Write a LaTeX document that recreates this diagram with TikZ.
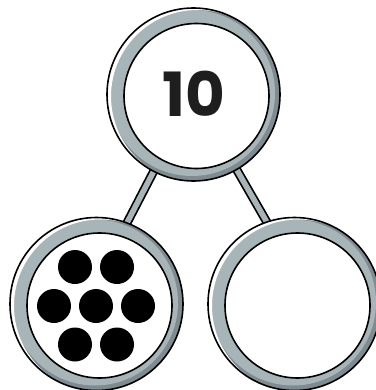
\documentclass[tikz,border=0pt]{standalone}
\usepackage{fontspec}
\newfontfamily\numfont{Poppins}
\usetikzlibrary{calc}
\definecolor{ringlight}{HTML}{A7B4B8}
\definecolor{ringdark}{HTML}{7F8B90}
\definecolor{numcol}{HTML}{1E1E1E}
\newcommand\myring[1]{%
  \begin{scope}
    \clip (#1.center) circle[radius=86.5pt];
    \fill[ringdark] (#1.center) circle[radius=86.5pt];
    \fill[ringlight] ([shift={(-1.5,-1.5)}]#1.center) circle[radius=83pt];
    \fill[white,even odd rule] (#1.center) circle[radius=86.5pt] ([shift={(4,2)}]#1.center) circle[radius=86.5pt];
  \end{scope}
  \draw[line width=1.6pt] (#1.center) circle[radius=86.5pt];
  \draw[line width=1.6pt,fill=white] ([shift={(3,1.5)}]#1.center) circle[radius=72.5pt];
}
\begin{document}
\begin{tikzpicture}[x=1pt,y=-1pt,
  holder/.style={circle,minimum size=173pt,inner sep=0pt,draw=none},
  conn/.style={line width=9pt,draw=black},
  conninner/.style={line width=5.6pt,draw=ringlight},
  dot/.style={circle,fill=black,minimum size=34pt,inner sep=0pt},
  numlabel/.style={text=numcol,inner sep=0pt,text depth=0pt,font=\numfont\bfseries\fontsize{61}{61}\selectfont}
  ]
\useasboundingbox (0,0) rectangle (375,390);
\node[holder] (n10) at (193.5,94.5) {};
\node[holder] (nA) at (96.5,304) {};
\node[holder] (nB) at (294.5,304) {};
\coordinate (ea) at (115,246);
\coordinate (eb) at (280,245);
\draw[conn] (n10.center) -- (ea);
\draw[conninner] (n10.center) -- (ea);
\draw[conn] (n10.center) -- (eb);
\draw[conninner] (n10.center) -- (eb);
\myring{n10}
\myring{nA}
\myring{nB}
\node[numlabel] (lbl) at (194,93.5) {10};
\node[dot] (d1) at (75,267) {};
\node[dot] (d2) at (117,267) {};
\node[dot] (d3) at (54,306) {};
\node[dot] (d4) at (96,306) {};
\node[dot] (d5) at (138,306) {};
\node[dot] (d6) at (75,344.5) {};
\node[dot] (d7) at (117,344.5) {};
\end{tikzpicture}
\end{document}
